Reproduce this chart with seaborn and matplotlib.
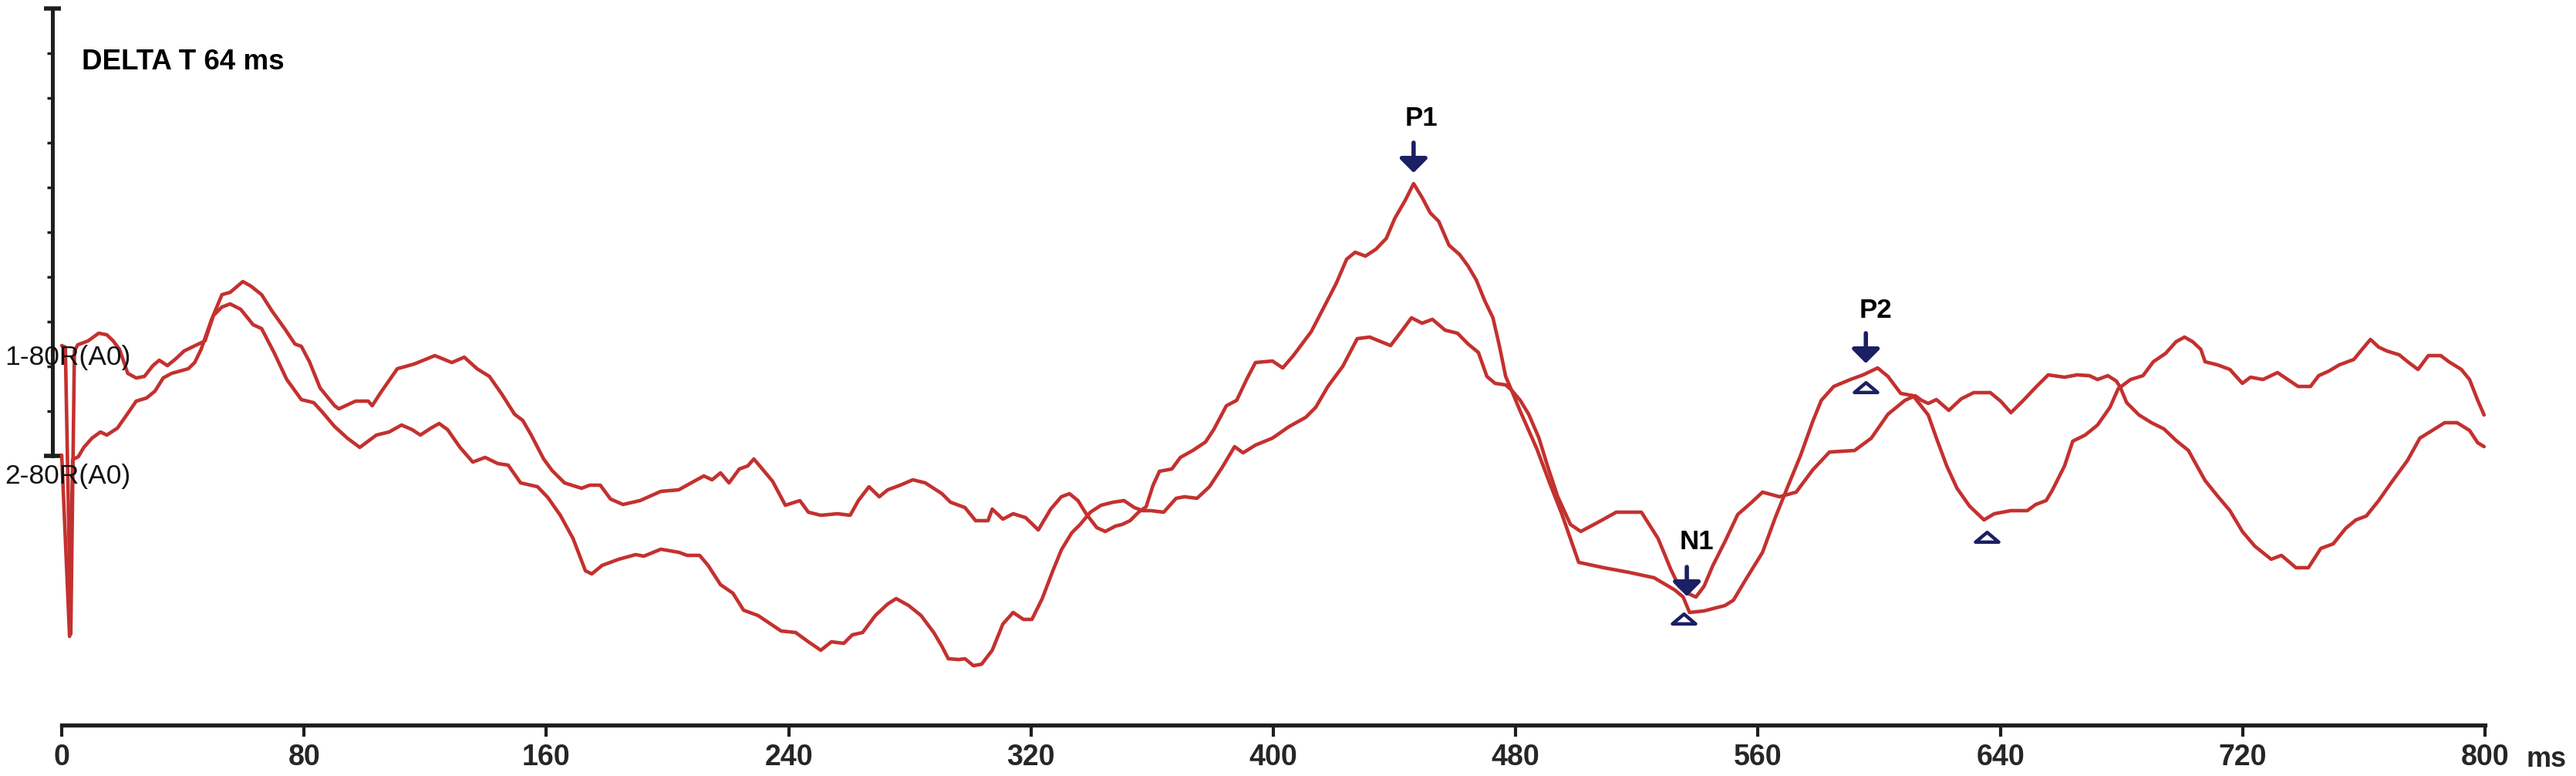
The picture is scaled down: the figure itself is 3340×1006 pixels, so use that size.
import matplotlib
matplotlib.use("Agg")
import matplotlib.pyplot as plt
import seaborn as sns
import pandas as pd
from matplotlib.path import Path

# ---------------- data ----------------
# time in ms, level = vertical position of the trace (rows, top = 0)
t_trace1 = [0, 2.6, 3.6, 5.5, 7.3, 10.0, 12.8, 14.9, 18.4, 22.5, 24.6, 28.0, 30.8, 33.5, 36.3,
            41.8, 43.9, 46.0, 49.4, 52.9, 55.6, 59.8, 62.5, 66.0, 69.4, 73.6, 77.0, 79.1, 81.8,
            85.3, 90.1, 91.5, 97.0, 101.2, 102.5, 105.3, 110.8, 116.3, 123.2, 128.8, 132.9, 137.1,
            141.2, 145.3, 149.5, 152.2, 155.0, 159.1, 161.9, 166.0, 171.6, 174.3, 177.8, 181.2,
            185.3, 190.9, 197.8, 203.7, 207.8, 212.0, 214.7, 217.5, 220.3, 223.7, 226.5, 228.5,
            231.3, 234.7, 238.9, 243.7, 246.5, 250.6, 256.1, 260.3, 263.0, 266.5, 269.9, 272.7,
            276.8, 281.0, 285.1, 290.6, 293.4, 298.2, 301.7, 305.8, 307.2, 310.7, 314.1, 318.2,
            322.4, 326.5, 330.0, 332.7, 335.5, 338.2, 341.7, 344.5, 347.9, 350.0, 352.7, 355.5,
            358.0, 360.3, 362.4, 366.5, 369.3, 373.4, 377.6, 380.3, 384.5, 387.9, 391.4, 394.1,
            399.7, 403.1, 406.6, 412.5, 416.6, 420.8, 424.2, 427.0, 430.4, 433.9, 437.3, 440.1,
            443.5, 446.3, 449.1, 451.8, 454.6, 458.0, 461.5, 464.3, 467.0, 469.8, 472.5, 474.6,
            476.7, 478.0, 481.5, 487.0, 491.2, 495.3, 500.8, 509.1, 517.4, 525.7, 532.6, 535.3,
            537.4, 542.2, 549.1, 551.9, 556.0, 561.5, 565.7, 569.8, 574.0, 578.1, 580.9, 585.0,
            590.5, 594.7, 599.5, 602.9, 607.1, 611.2, 616.2, 618.9, 622.3, 625.7, 629.8, 634.6,
            638.0, 643.5, 648.9, 651.7, 655.1, 657.1, 661.2, 663.9, 668.0, 672.1, 676.2, 678.9,
            683.0, 687.1, 690.5, 694.6, 698.0, 700.8, 703.5, 706.2, 707.6, 711.7, 715.8, 719.9,
            722.6, 726.7, 731.5, 734.9, 738.3, 742.4, 745.1, 748.5, 751.9, 756.7, 759.4, 762.2,
            764.9, 767.6, 771.7, 774.5, 777.9, 781.3, 785.4, 788.1, 792.2, 794.9, 797.6, 799.7]
y_trace1 = [590, 825, 596, 592, 580, 568, 560, 564, 555, 532, 520, 516, 507, 490, 484,
            478, 470, 453, 415, 382, 379, 365, 371, 382, 403, 426, 446, 449, 469,
            503, 526, 530, 520, 520, 526, 509, 478, 472, 461, 470, 463, 478,
            488, 511, 537, 545, 564, 595, 610, 626, 633, 629, 629, 647,
            654, 649, 637, 635, 626, 617, 622, 613, 626, 608, 604, 595,
            608, 624, 655, 649, 664, 668, 666, 668, 649, 631, 644, 635,
            629, 622, 626, 640, 651, 658, 675, 675, 660, 673, 666, 671,
            687, 660, 644, 640, 649, 666, 684, 689, 682, 680, 675, 664,
            657, 629, 611, 608, 593, 584, 573, 557, 526, 519, 490, 470,
            468, 477, 461, 430, 399, 367, 336, 327, 332, 323, 309, 283,
            260, 238, 256, 276, 287, 318, 330, 345, 363, 390, 412, 448,
            488, 500, 533, 582, 626, 667, 729, 736, 742, 749, 765, 774,
            794, 792, 785, 778, 751, 716, 671, 631, 591, 546, 519, 501,
            492, 486, 477, 488, 510, 513, 538, 568, 604, 633, 656, 674,
            666, 662, 662, 654, 649, 636, 604, 572, 564, 551, 528, 504,
            492, 487, 469, 458, 443, 437, 443, 453, 469, 473, 479, 497,
            489, 492, 483, 492, 501, 501, 487, 481, 473, 466, 453, 440,
            450, 455, 460, 469, 479, 461, 461, 469, 479, 492, 519, 538]

t_trace2 = [0, 1.2, 3.0, 4.2, 5.3, 8.7, 12.2, 14.9, 17.0, 19.1, 21.8, 24.6, 27.3, 30.1, 32.2,
            34.9, 37.7, 40.4, 44.6, 47.3, 50.1, 52.9, 55.6, 59.1, 63.2, 66.0, 70.1, 74.3, 79.1,
            83.2, 86.0, 90.1, 94.3, 98.4, 103.9, 108.1, 112.2, 115.7, 118.4, 121.9, 124.6, 127.4,
            131.5, 135.7, 139.8, 144.0, 147.4, 151.5, 157.1, 160.5, 164.6, 168.8, 172.9, 175.0,
            178.4, 183.9, 189.5, 192.2, 197.8, 203.7, 206.5, 210.6, 213.4, 217.5, 221.6, 225.1,
            229.9, 234.1, 237.5, 242.3, 246.5, 250.6, 254.1, 258.2, 261.0, 264.4, 268.6, 272.7,
            275.5, 279.6, 283.7, 287.9, 290.6, 292.7, 296.1, 298.2, 301.0, 303.7, 307.2, 310.7,
            314.1, 317.5, 320.3, 323.7, 327.2, 330.0, 333.4, 336.2, 339.6, 343.1, 347.2, 350.7,
            354.1, 356.9, 359.6, 363.8, 367.9, 370.7, 374.8, 378.9, 383.1, 387.2, 390.0, 394.1,
            399.7, 405.2, 410.7, 414.0, 418.0, 422.9, 427.7, 431.8, 438.7, 442.2, 445.6, 449.1,
            452.5, 456.7, 460.8, 464.3, 467.7, 470.5, 473.2, 476.7, 478.7, 481.5, 484.3, 487.7,
            490.5, 493.9, 498.1, 501.5, 507.7, 513.2, 521.5, 527.0, 531.2, 533.9, 536.7, 539.5,
            542.2, 545.0, 549.1, 553.3, 557.4, 561.5, 567.1, 572.6, 578.1, 583.6, 591.9, 597.4,
            602.9, 608.5, 611.9, 614.0, 616.2, 618.9, 623.0, 627.1, 631.2, 636.7, 640.1, 643.5,
            647.6, 651.7, 655.8, 661.2, 665.3, 669.4, 672.1, 675.5, 678.3, 679.6, 681.7, 685.8,
            689.9, 694.0, 698.0, 702.1, 704.9, 707.6, 711.7, 715.8, 719.9, 724.0, 729.4, 732.8,
            737.6, 741.7, 745.8, 749.9, 754.0, 757.4, 760.8, 764.9, 769.0, 774.4, 778.5, 782.6,
            786.7, 790.8, 794.9, 797.6, 799.7]
y_trace2 = [448, 450, 822, 455, 447, 442, 432, 434, 442, 453, 484, 490, 488, 474, 467,
            474, 465, 455, 447, 442, 409, 398, 394, 401, 421, 426, 457, 492, 518,
            522, 534, 553, 568, 580, 564, 560, 551, 557, 564, 555, 549, 557,
            580, 599, 593, 601, 603, 626, 631, 645, 668, 698, 740, 744,
            733, 725, 719, 721, 712, 716, 720, 720, 733, 758, 769, 791,
            798, 809, 818, 820, 832, 843, 832, 834, 823, 820, 798, 783,
            776, 785, 798, 820, 838, 854, 855, 854, 863, 861, 843, 809,
            794, 803, 803, 776, 740, 713, 691, 680, 664, 655, 651, 649,
            658, 662, 662, 664, 646, 644, 646, 631, 606, 579, 587, 577,
            568, 553, 541, 528, 501, 475, 439, 437, 448, 430, 412, 419,
            414, 428, 432, 446, 457, 488, 497, 499, 506, 519, 537, 568,
            604, 644, 680, 689, 676, 664, 664, 698, 738, 760, 769, 774,
            760, 734, 702, 667, 653, 638, 644, 638, 609, 586, 584, 568,
            537, 519, 513, 519, 523, 518, 532, 517, 509, 509, 520, 535,
            519, 502, 486, 489, 486, 487, 492, 487, 494, 502, 522, 538,
            548, 556, 571, 584, 604, 623, 643, 662, 689, 708, 725, 720,
            736, 736, 711, 705, 685, 674, 669, 649, 626, 597, 568, 558,
            548, 548, 558, 574, 579]

x_ticks = [0, 80, 160, 240, 320, 400, 480, 560, 640, 720, 800]
x_tick_labels = ["0", "80", "160", "240", "320", "400", "480", "560", "640", "720", "800"]
channel_labels = ["1-80R(A0)", "2-80R(A0)"]
channel_label_levels = [463, 618]
title_text = "DELTA T 64 ms"
unit_text = "ms"

peak_names = ["P1", "N1", "P2"]
peak_times = [446.3, 536.5, 595.6]
peak_label_times = [448.9, 539.8, 598.9]
peak_label_levels = [153, 703, 402]
arrow_tails = [185, 735, 432]
arrow_tips = [224, 773, 471]

triangle_times = [535.5, 595.6, 635.5]
triangle_levels = [802, 502, 696]

# ---------------- styling / layout ----------------
sns.set_style("white")
plt.rcParams["font.family"] = ["Liberation Sans", "DejaVu Sans"]

RED = "#c3312f"
NAVY = "#1b1f63"
AXC = "#1e1e1e"

W, H = 3340, 1006
X0_PX, PX_PER_MS = 80.0, 3.9275

fig = plt.figure(figsize=(W / 100, H / 100), dpi=100)
ax = fig.add_axes([0, 0, 1, 1])
ax.set_xlim(-X0_PX / PX_PER_MS, (W - X0_PX) / PX_PER_MS)
ax.set_ylim(H, 0)

df = pd.concat([
    pd.DataFrame({"time": t_trace1, "level": y_trace1, "trace": "1"}),
    pd.DataFrame({"time": t_trace2, "level": y_trace2, "trace": "2"}),
])
sns.lineplot(data=df, x="time", y="level", units="trace", estimator=None, sort=False,
             color=RED, linewidth=3.3, ax=ax, zorder=3)
ax.set_xlabel("")
ax.set_ylabel("")

# axes (spines)
for s in ["top", "right"]:
    ax.spines[s].set_visible(False)
ax.spines["bottom"].set_position(("data", 940))
ax.spines["bottom"].set_bounds(0, 800)
ax.spines["bottom"].set_linewidth(3.8)
ax.spines["bottom"].set_color(AXC)
ax.spines["left"].set_position(("data", (68 - X0_PX) / PX_PER_MS))
ax.spines["left"].set_bounds(11, 591)
ax.spines["left"].set_linewidth(3.6)
ax.spines["left"].set_color(AXC)

ax.set_xticks(x_ticks)
ax.set_xticklabels(x_tick_labels, fontsize=27, fontweight="bold")
ax.tick_params(axis="x", which="major", bottom=True, direction="out", length=11, width=3,
               color=AXC, pad=6)

ax.set_yticks([11, 591])
ax.set_yticklabels([])
ax.set_yticks([11 + 58 * k for k in range(1, 10)], minor=True)
ax.tick_params(axis="y", which="major", left=True, direction="inout", length=16, width=4,
               color=AXC)
ax.tick_params(axis="y", which="minor", left=True, direction="out", length=5, width=2.5,
               color=AXC)

# texts
ax.text((106 - X0_PX) / PX_PER_MS, 80, title_text, fontsize=26.5, fontweight="bold",
        ha="left", va="center", color="black")
for lab, lev in zip(channel_labels, channel_label_levels):
    ax.text((6 - X0_PX) / PX_PER_MS, lev, lab, fontsize=25.5, ha="left", va="center",
            color="#111111", zorder=5)
ax.text((3302 - X0_PX) / PX_PER_MS, 984, unit_text, fontsize=26, fontweight="bold",
        ha="center", va="center")

# peak markers
for name, t, lt, ll, a0, a1 in zip(peak_names, peak_times, peak_label_times,
                                    peak_label_levels, arrow_tails, arrow_tips):
    ax.text(lt, ll, name, fontsize=25, fontweight="bold", ha="center", va="center",
            color="black", zorder=6)
    ax.annotate("", xy=(t, a1), xytext=(t, a0),
                arrowprops=dict(arrowstyle="-|>,head_width=0.55,head_length=0.55",
                                lw=4, color=NAVY, mutation_scale=20,
                                shrinkA=0, shrinkB=0), zorder=6)

tri = Path([(-1, -0.42), (1, -0.42), (0, 0.42), (-1, -0.42)],
           [Path.MOVETO, Path.LINETO, Path.LINETO, Path.CLOSEPOLY])
sns.scatterplot(x=triangle_times, y=triangle_levels, marker=tri, s=470,
                facecolor="white", edgecolor=NAVY, linewidth=3.2, ax=ax, zorder=6)

fig.savefig("out.png", dpi=100)
